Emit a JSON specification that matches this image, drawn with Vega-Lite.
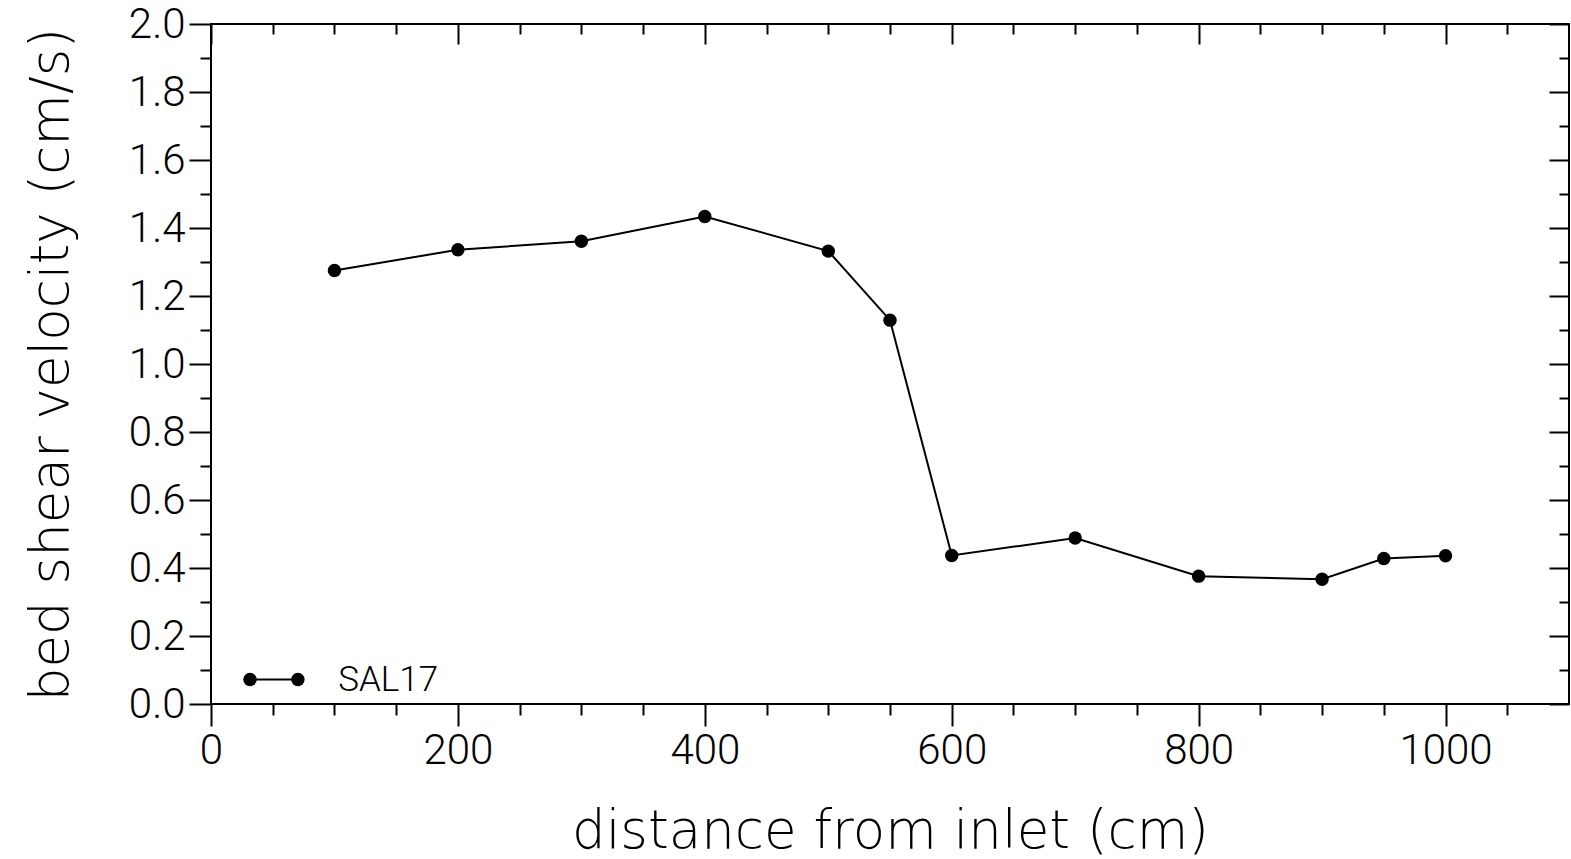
{
  "$schema": "https://vega.github.io/schema/vega-lite/v6.json",
  "width": 1358,
  "height": 680,
  "autosize": {"type": "none"},
  "padding": {"left": 211, "top": 24, "right": 2, "bottom": 155},
  "background": "white",
  "config": {
    "view": {"stroke": "black", "strokeWidth": 2},
    "axis": {
      "labelFont": "Roboto",
      "labelFontWeight": 300,
      "titleFont": "DejaVu Sans",
      "titleFontWeight": 200,
      "labelColor": "black",
      "titleColor": "black",
      "tickColor": "black",
      "tickWidth": 2,
      "domain": false,
      "grid": false,
      "labelFlush": false,
      "labelOverlap": false,
      "labelBound": false
    }
  },
  "datasets": {
    "profile": [
      {"distance": 100, "velocity": 1.275},
      {"distance": 200, "velocity": 1.336},
      {"distance": 300, "velocity": 1.361},
      {"distance": 400, "velocity": 1.434},
      {"distance": 500, "velocity": 1.332},
      {"distance": 550, "velocity": 1.129},
      {"distance": 600, "velocity": 0.437},
      {"distance": 700, "velocity": 0.488},
      {"distance": 800, "velocity": 0.376},
      {"distance": 900, "velocity": 0.367},
      {"distance": 950, "velocity": 0.428},
      {"distance": 1000, "velocity": 0.436}
    ],
    "key": [
      {"x": 31.6, "x2": 70.4, "y": 0.072, "labelX": 103, "label": "SAL17"}
    ]
  },
  "layer": [
    {
      "data": {"name": "profile"},
      "mark": {"type": "line", "color": "black", "strokeWidth": 2},
      "encoding": {
        "x": {
          "field": "distance",
          "type": "quantitative",
          "scale": {"domain": [0, 1100], "nice": false, "zero": false},
          "axis": {
            "orient": "bottom",
            "values": [0, 50, 100, 150, 200, 250, 300, 350, 400, 450, 500, 550, 600, 650, 700, 750, 800, 850, 900, 950, 1000, 1050],
            "format": "d",
            "labelExpr": "datum.value % 200 === 0 ? datum.label : ''",
            "tickSize": {"condition": {"test": "datum.value % 200 === 0", "value": 22}, "value": 11},
            "labelFontSize": 42,
            "labelPadding": 4,
            "title": "distance from inlet (cm)",
            "titleFontSize": 53,
            "titlePadding": 34
          }
        },
        "y": {
          "field": "velocity",
          "type": "quantitative",
          "scale": {"domain": [0, 2], "nice": false, "zero": false},
          "axis": {
            "orient": "left",
            "values": [0, 0.1, 0.2, 0.3, 0.4, 0.5, 0.6, 0.7, 0.8, 0.9, 1.0, 1.1, 1.2, 1.3, 1.4, 1.5, 1.6, 1.7, 1.8, 1.9, 2.0],
            "format": ".1f",
            "labelExpr": "round(datum.value * 10) % 2 === 0 ? datum.label : ''",
            "tickSize": {"condition": {"test": "round(datum.value * 10) % 2 === 0", "value": 22}, "value": 11},
            "labelFontSize": 42,
            "labelPadding": 4,
            "title": "bed shear velocity (cm/s)",
            "titleFontSize": 53,
            "titlePadding": 50
          }
        }
      }
    },
    {
      "data": {"name": "profile"},
      "mark": {"type": "point", "filled": true, "color": "black", "opacity": 1, "size": 180},
      "encoding": {
        "x": {
          "field": "distance",
          "type": "quantitative",
          "axis": {
            "orient": "top",
            "values": [0, 50, 100, 150, 200, 250, 300, 350, 400, 450, 500, 550, 600, 650, 700, 750, 800, 850, 900, 950, 1000, 1050],
            "labels": false,
            "tickSize": {"condition": {"test": "datum.value % 200 === 0", "value": -20}, "value": -10},
            "title": null
          }
        },
        "y": {
          "field": "velocity",
          "type": "quantitative",
          "axis": {
            "orient": "right",
            "values": [0, 0.1, 0.2, 0.3, 0.4, 0.5, 0.6, 0.7, 0.8, 0.9, 1.0, 1.1, 1.2, 1.3, 1.4, 1.5, 1.6, 1.7, 1.8, 1.9, 2.0],
            "labels": false,
            "tickSize": {"condition": {"test": "round(datum.value * 10) % 2 === 0", "value": -20}, "value": -10},
            "title": null
          }
        }
      }
    },
    {
      "data": {"name": "key"},
      "mark": {"type": "rule", "color": "black", "strokeWidth": 2},
      "encoding": {
        "x": {"field": "x", "type": "quantitative", "axis": null},
        "x2": {"field": "x2"},
        "y": {"field": "y", "type": "quantitative", "axis": null}
      }
    },
    {
      "data": {"name": "key"},
      "mark": {"type": "point", "filled": true, "color": "black", "opacity": 1, "size": 180},
      "encoding": {
        "x": {"field": "x", "type": "quantitative", "axis": null},
        "y": {"field": "y", "type": "quantitative", "axis": null}
      }
    },
    {
      "data": {"name": "key"},
      "mark": {"type": "point", "filled": true, "color": "black", "opacity": 1, "size": 180},
      "encoding": {
        "x": {"field": "x2", "type": "quantitative", "axis": null},
        "y": {"field": "y", "type": "quantitative", "axis": null}
      }
    },
    {
      "data": {"name": "key"},
      "mark": {"type": "text", "align": "left", "baseline": "middle", "font": "Roboto", "fontWeight": 300, "fontSize": 35, "color": "black"},
      "encoding": {
        "x": {"field": "labelX", "type": "quantitative", "axis": null},
        "y": {"field": "y", "type": "quantitative", "axis": null},
        "text": {"field": "label"}
      }
    }
  ],
  "resolve": {"axis": {"x": "independent", "y": "independent"}}
}
